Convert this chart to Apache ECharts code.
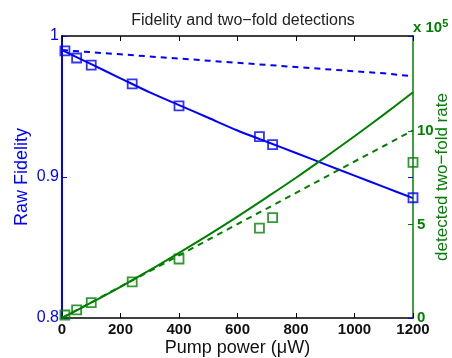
<!DOCTYPE html>
<html>
<head>
<meta charset="utf-8">
<script src="https://cdn.jsdelivr.net/npm/echarts@6/dist/echarts.min.js"></script>
<style>
  html, body { margin: 0; padding: 0; background: #fff; }
  #chart { width: 452px; height: 358px; }
</style>
</head>
<body>
<div id="chart"></div>
<script>
// measured points
const pumpPower = [10, 50, 100, 240, 400, 675, 720, 1200]
const rawFidelity = [0.9894, 0.9844, 0.9794, 0.966, 0.9504, 0.9286, 0.9229, 0.8853]
const twoFoldRate = [0.16, 0.43, 0.82, 1.93, 3.16, 4.81, 5.38, 8.33] // x 1e5

// model curves
const fitPower = [0, 100, 200, 300, 400, 500, 600, 700, 800, 900, 1000, 1100, 1200]
const fidelityFit = [0.990, 0.980, 0.970, 0.960, 0.951, 0.942, 0.933, 0.925, 0.917, 0.909, 0.901, 0.893, 0.885]
const fidelityIdeal = [0.990, 0.9885, 0.987, 0.9855, 0.984, 0.9825, 0.981, 0.9795, 0.978, 0.9765, 0.975, 0.9735, 0.9715]
const rateFit = [0, 0.82, 1.67, 2.56, 3.49, 4.44, 5.43, 6.46, 7.51, 8.61, 9.73, 10.89, 12.09]
const rateLinear = [0, 0.84, 1.68, 2.51, 3.35, 4.19, 5.03, 5.86, 6.70, 7.54, 8.38, 9.21, 10.05]

const fidTicks = [0.8, 0.9, 1]
const rateTicks = [0, 5, 10]

const BLUE = '#0000ff'
const GREEN = '#008000'
const FONT = 'Liberation Sans'

const chart = echarts.init(document.getElementById('chart'))

const pair = (xs, ys) => xs.map((x, i) => [x, ys[i]])

const option = {
  animation: false,
  textStyle: { fontFamily: FONT },
  title: {
    text: 'Fidelity and two\u2212fold detections',
    left: 238,
    textAlign: 'center',
    top: 8,
    textStyle: { fontSize: 16, fontWeight: 'normal', color: '#222', fontFamily: FONT }
  },
  grid: { left: 62, right: 39, top: 36, bottom: 40, containLabel: false, outerBoundsMode: 'none' },
  xAxis: [
    {
      type: 'value', min: 0, max: 1200, interval: 200,
      name: 'Pump power (\u03bcW)', nameLocation: 'middle', nameGap: 21, nameMoveOverlap: false,
      nameTextStyle: { fontSize: 18, color: '#111', fontFamily: FONT },
      axisLine: { onZero: false, lineStyle: { color: '#000', width: 1.5 } },
      axisTick: { inside: true, length: 5, lineStyle: { color: '#000' } },
      axisLabel: {
        color: '#111', fontWeight: 'bold', fontSize: 15, margin: 4, fontFamily: FONT,
        formatter: v => String(v)
      },
      splitLine: { show: false }
    },
    {
      type: 'value', min: 0, max: 1200, interval: 200, position: 'top',
      axisLine: { onZero: false, lineStyle: { color: '#000', width: 1.5 } },
      axisTick: { inside: true, length: 5, lineStyle: { color: '#000' } },
      axisLabel: { show: false },
      splitLine: { show: false }
    }
  ],
  yAxis: [
    {
      type: 'value', min: 0.8, max: 1, position: 'left', offset: 0,
      name: 'Raw Fidelity', nameLocation: 'middle', nameGap: 31, nameMoveOverlap: false,
      nameTextStyle: { fontSize: 18, color: BLUE, fontFamily: FONT },
      axisLine: { show: true, onZero: false, lineStyle: { color: BLUE, width: 2 } },
      axisTick: { inside: true, length: 5, customValues: fidTicks, lineStyle: { color: BLUE } },
      axisLabel: {
        color: BLUE, fontSize: 16, margin: 3, customValues: fidTicks,
        formatter: v => (v === 1 ? '1' : v.toFixed(1))
      },
      splitLine: { show: false }
    },
    {
      type: 'value', min: 0, max: 15.1, position: 'right', offset: 0,
      name: 'detected two\u2212fold rate', nameLocation: 'middle', nameGap: 21, nameMoveOverlap: false,
      nameRotate: 90,
      nameTextStyle: { fontSize: 17, color: GREEN, fontFamily: FONT },
      axisLine: { show: true, onZero: false, lineStyle: { color: GREEN, width: 1.5 } },
      axisTick: { inside: true, length: 5, customValues: rateTicks, lineStyle: { color: GREEN } },
      axisLabel: { color: GREEN, fontSize: 15, fontWeight: 'bold', margin: 4, customValues: rateTicks },
      splitLine: { show: false }
    },
    {
      // mirrored fidelity ticks on the right side
      type: 'value', min: 0.8, max: 1, position: 'right', offset: 0,
      axisLine: { show: false, onZero: false },
      axisTick: { show: true, inside: true, length: 5, customValues: fidTicks, lineStyle: { color: BLUE } },
      axisLabel: { show: false },
      splitLine: { show: false }
    }
  ],
  graphic: [
    {
      type: 'text', left: 413, top: 18,
      style: {
        text: 'x 10{sup|5}',
        fill: GREEN,
        font: 'bold 15px "Liberation Sans"',
        rich: { sup: { fontSize: 11, fontWeight: 'bold', fill: GREEN, verticalAlign: 'top', padding: [0, 0, 9, 0] } }
      }
    }
  ],
  series: [
    {
      type: 'line', xAxisIndex: 0, yAxisIndex: 0, data: pair(fitPower, fidelityIdeal),
      showSymbol: false, lineStyle: { color: BLUE, width: 2, type: [6, 5] }, z: 2
    },
    {
      type: 'line', xAxisIndex: 0, yAxisIndex: 0, data: pair(fitPower, fidelityFit),
      showSymbol: false, smooth: 0.3, lineStyle: { color: BLUE, width: 2 }, z: 2
    },
    {
      type: 'scatter', xAxisIndex: 0, yAxisIndex: 0, data: pair(pumpPower, rawFidelity),
      symbol: 'rect', symbolSize: 9,
      itemStyle: { color: 'rgba(0,0,0,0)', borderColor: BLUE, borderWidth: 1.8 }, z: 3
    },
    {
      type: 'line', xAxisIndex: 0, yAxisIndex: 1, data: pair(fitPower, rateLinear),
      showSymbol: false, lineStyle: { color: GREEN, width: 2, type: [6, 5] }, z: 2
    },
    {
      type: 'line', xAxisIndex: 0, yAxisIndex: 1, data: pair(fitPower, rateFit),
      showSymbol: false, smooth: 0.3, lineStyle: { color: GREEN, width: 2 }, z: 2
    },
    {
      type: 'scatter', xAxisIndex: 0, yAxisIndex: 1, data: pair(pumpPower, twoFoldRate),
      symbol: 'rect', symbolSize: 9,
      itemStyle: { color: 'rgba(0,0,0,0)', borderColor: GREEN, borderWidth: 1.8 }, z: 3
    }
  ]
}

chart.setOption(option)
</script>
</body>
</html>
